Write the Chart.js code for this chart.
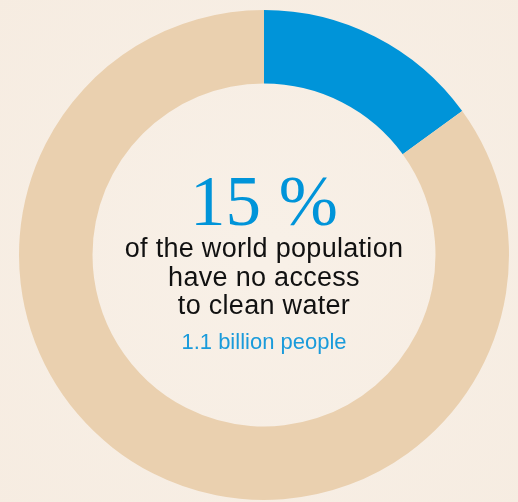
<!DOCTYPE html>
<html>
<head>
<meta charset="utf-8">
<script src="https://cdn.jsdelivr.net/npm/chart.js@4"></script>
<style>
html,body{margin:0;padding:0;background:#F7EEE4;}
#wrap{width:518px;height:502px;position:relative;}
canvas{display:block;}
</style>
</head>
<body>
<div id="wrap"><canvas id="c" width="518" height="502"></canvas></div>
<script>
const categories = ["No access to clean water", "Access to clean water"];
const values = [15, 85];
const colors = ["#0094D9", "#EAD0AF"];
const headline = "15 %";
const captionLines = ["of the world population", "have no access", "to clean water"];
const subCaption = "1.1 billion people";

const centerText = {
  id: 'centerText',
  beforeDraw(chart) {
    const {ctx, width, height} = chart;
    ctx.save();
    const g = ctx.createRadialGradient(264, 255, 20, 264, 255, 380);
    g.addColorStop(0, '#F8F0E7');
    g.addColorStop(1, '#F6ECE1');
    ctx.fillStyle = g;
    ctx.fillRect(0, 0, width, height);
    ctx.restore();
  },
  afterDraw(chart) {
    const {ctx} = chart;
    const arc = chart.getDatasetMeta(0).data[0];
    const cx = arc.x, cy = arc.y;
    ctx.save();
    ctx.textAlign = 'center';
    ctx.textBaseline = 'alphabetic';
    ctx.fillStyle = '#0094D9';
    ctx.font = '71px "Liberation Serif", "DejaVu Serif", serif';
    ctx.fillText(headline, cx, cy - 30);
    ctx.fillStyle = '#111111';
    ctx.font = '27px "Liberation Sans", Arial, sans-serif';
    ctx.letterSpacing = '0.3px';
    captionLines.forEach((t, i) => ctx.fillText(t, cx, cy + 2 + i * 28.5));
    ctx.letterSpacing = '0px';
    ctx.fillStyle = '#1A9BDB';
    ctx.font = '22px "Liberation Sans", Arial, sans-serif';
    ctx.fillText(subCaption, cx, cy + 94);
    ctx.restore();
  }
};

new Chart(document.getElementById('c'), {
  type: 'doughnut',
  data: {
    labels: categories,
    datasets: [{
      data: values,
      backgroundColor: colors,
      borderWidth: 0,
      hoverOffset: 0
    }]
  },
  options: {
    responsive: false,
    animation: false,
    cutout: '70%',
    layout: { padding: { left: 19, right: 9, top: 10, bottom: 2 } },
    plugins: {
      legend: { display: false },
      tooltip: { enabled: false }
    }
  },
  plugins: [centerText]
});
</script>
</body>
</html>
